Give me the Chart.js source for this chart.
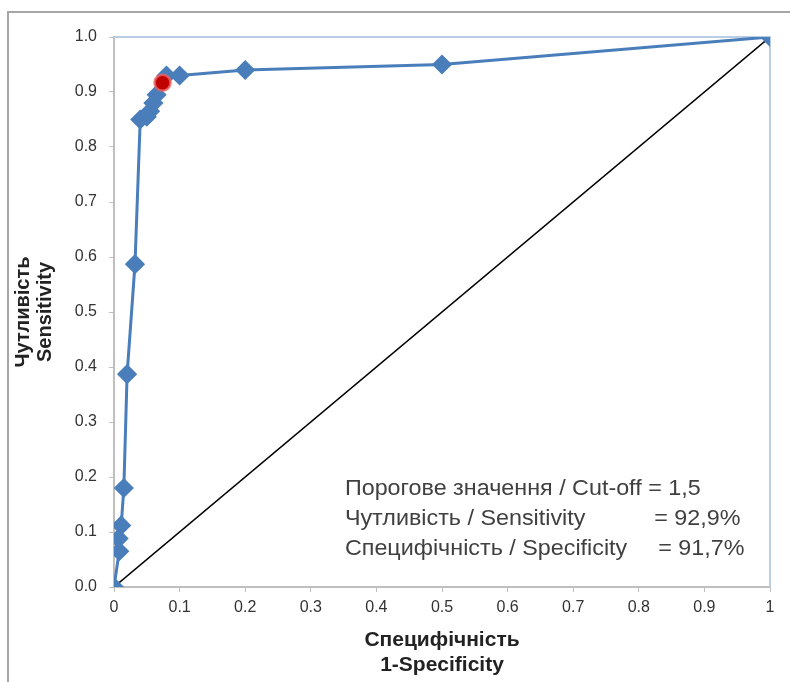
<!DOCTYPE html>
<html lang="uk">
<head>
    <meta charset="UTF-8">
    <title>ROC curve</title>
    <script src="https://cdn.jsdelivr.net/npm/chart.js"></script>
    <style>
        body {
            margin: 0;
            background: #fff;
        }
        .frame {
            position: absolute;
            left: 7px;
            top: 11px;
            width: 790px;
            height: 680px;
            border-top: 2px solid #a6a6a6;
            border-left: 2px solid #a6a6a6;
        }
        .wrap {
            position: absolute;
            left: 0;
            top: 0;
            width: 790px;
            height: 682px;
        }
    </style>
</head>
<body>
    <div class="frame"></div>
    <div class="wrap"><canvas id="roc" width="790" height="682"></canvas></div>

    <script>
        // ROC points: x = 1-specificity, y = sensitivity
        const fpr = [0, 0.008, 0.007, 0.011, 0.015, 0.02, 0.032, 0.04, 0.05, 0.055, 0.06, 0.065, 0.08, 0.1, 0.2, 0.5, 1];
        const tpr = [0, 0.065, 0.088, 0.112, 0.18, 0.387, 0.587, 0.85, 0.855, 0.865, 0.88, 0.895, 0.93, 0.93, 0.94, 0.95, 1];
        const cutoffPoint = [0.074, 0.917];
        const diagonal = [0, 1];
        const xTicks = [0, 0.1, 0.2, 0.3, 0.4, 0.5, 0.6, 0.7, 0.8, 0.9, 1];
        const yTicks = [0, 0.1, 0.2, 0.3, 0.4, 0.5, 0.6, 0.7, 0.8, 0.9, 1.0];
        const notes = [
            ['Порогове значення / Cut-off = 1,5', ''],
            ['Чутливість / Sensitivity', '= 92,9%'],
            ['Специфічність / Specificity', '= 91,7%']
        ];

        const narrow = "'Liberation Sans Narrow', 'Arial Narrow', 'Liberation Sans', Arial, sans-serif";
        const blue = '#4a7ebb';

        const plotFrame = {
            id: 'plotFrame',
            beforeDatasetsDraw(chart) {
                const a = chart.chartArea, c = chart.ctx;
                c.save();
                c.strokeStyle = '#b9cde5';
                c.lineWidth = 2;
                c.beginPath();
                c.moveTo(a.left, a.top);
                c.lineTo(a.right, a.top);
                c.lineTo(a.right, a.bottom);
                c.stroke();
                c.restore();
            },
            afterDraw(chart) {
                const c = chart.ctx, xs = chart.scales.x, ys = chart.scales.y;
                const sx = 1.06;
                c.save();
                c.font = "22px 'Liberation Sans', Arial, sans-serif";
                c.fillStyle = '#404040';
                c.textBaseline = 'middle';
                c.scale(sx, 1);
                const x0 = xs.getPixelForValue(0.352) / sx;
                const xr = xs.getPixelForValue(0.955) / sx;
                const rows = [0.178, 0.123, 0.07];
                notes.forEach((n, i) => {
                    const y = ys.getPixelForValue(rows[i]);
                    c.textAlign = 'left';
                    c.fillText(n[0], x0, y);
                    if (n[1]) {
                        c.textAlign = 'right';
                        c.fillText(n[1], xr + (i === 2 ? 4 / sx : 0), y);
                    }
                });
                c.restore();
            }
        };

        new Chart(document.getElementById('roc'), {
            type: 'scatter',
            data: {
                datasets: [
                    {
                        label: 'cut-off',
                        data: [{ x: cutoffPoint[0], y: cutoffPoint[1] }],
                        pointRadius: 8,
                        backgroundColor: '#c00000',
                        borderColor: 'rgba(235, 100, 100, 0.8)',
                        borderWidth: 2.5,
                        order: 0
                    },
                    {
                        label: 'ROC',
                        data: fpr.map((v, i) => ({ x: v, y: tpr[i] })),
                        showLine: true,
                        borderColor: blue,
                        backgroundColor: blue,
                        borderWidth: 3,
                        pointStyle: 'rectRot',
                        pointRadius: 8,
                        order: 1
                    },
                    {
                        label: 'diagonal',
                        data: diagonal.map(v => ({ x: v, y: v })),
                        showLine: true,
                        borderColor: '#000',
                        borderWidth: 1.5,
                        pointRadius: 0,
                        order: 2
                    }
                ]
            },
            options: {
                responsive: false,
                animation: false,
                layout: { padding: { top: 37, right: 20, left: 0, bottom: 0 } },
                plugins: {
                    legend: { display: false },
                    tooltip: { enabled: false }
                },
                scales: {
                    x: {
                        type: 'linear',
                        min: 0,
                        max: 1,
                        afterBuildTicks: s => { s.ticks = xTicks.map(v => ({ value: v })); },
                        afterFit: s => { s.height = 95; },
                        border: { color: '#bfbfbf', width: 2 },
                        grid: { drawOnChartArea: false, color: '#bfbfbf', tickLength: 5 },
                        ticks: {
                            color: '#333',
                            font: { family: narrow, size: 16 },
                            padding: 6,
                            callback: v => String(v)
                        },
                        title: {
                            display: true,
                            text: ['Специфічність', '1-Specificity'],
                            color: '#222',
                            font: { family: narrow, size: 21, weight: 'bold', lineHeight: 1.2 },
                            padding: { top: 2 }
                        }
                    },
                    y: {
                        min: 0,
                        max: 1,
                        afterBuildTicks: s => { s.ticks = yTicks.map(v => ({ value: v })); },
                        afterFit: s => { s.width = 114; },
                        border: { color: '#bfbfbf', width: 2 },
                        grid: { drawOnChartArea: false, color: '#bfbfbf', tickLength: 5 },
                        ticks: {
                            color: '#333',
                            font: { family: narrow, size: 16 },
                            padding: 12,
                            callback: v => v.toFixed(1)
                        },
                        title: {
                            display: true,
                            text: ['Чутливість', 'Sensitivity'],
                            color: '#222',
                            font: { family: narrow, size: 20, weight: 'bold', lineHeight: 1.1 },
                            padding: { top: 12, bottom: 2 }
                        }
                    }
                }
            },
            plugins: [plotFrame]
        });
    </script>
</body>
</html>
